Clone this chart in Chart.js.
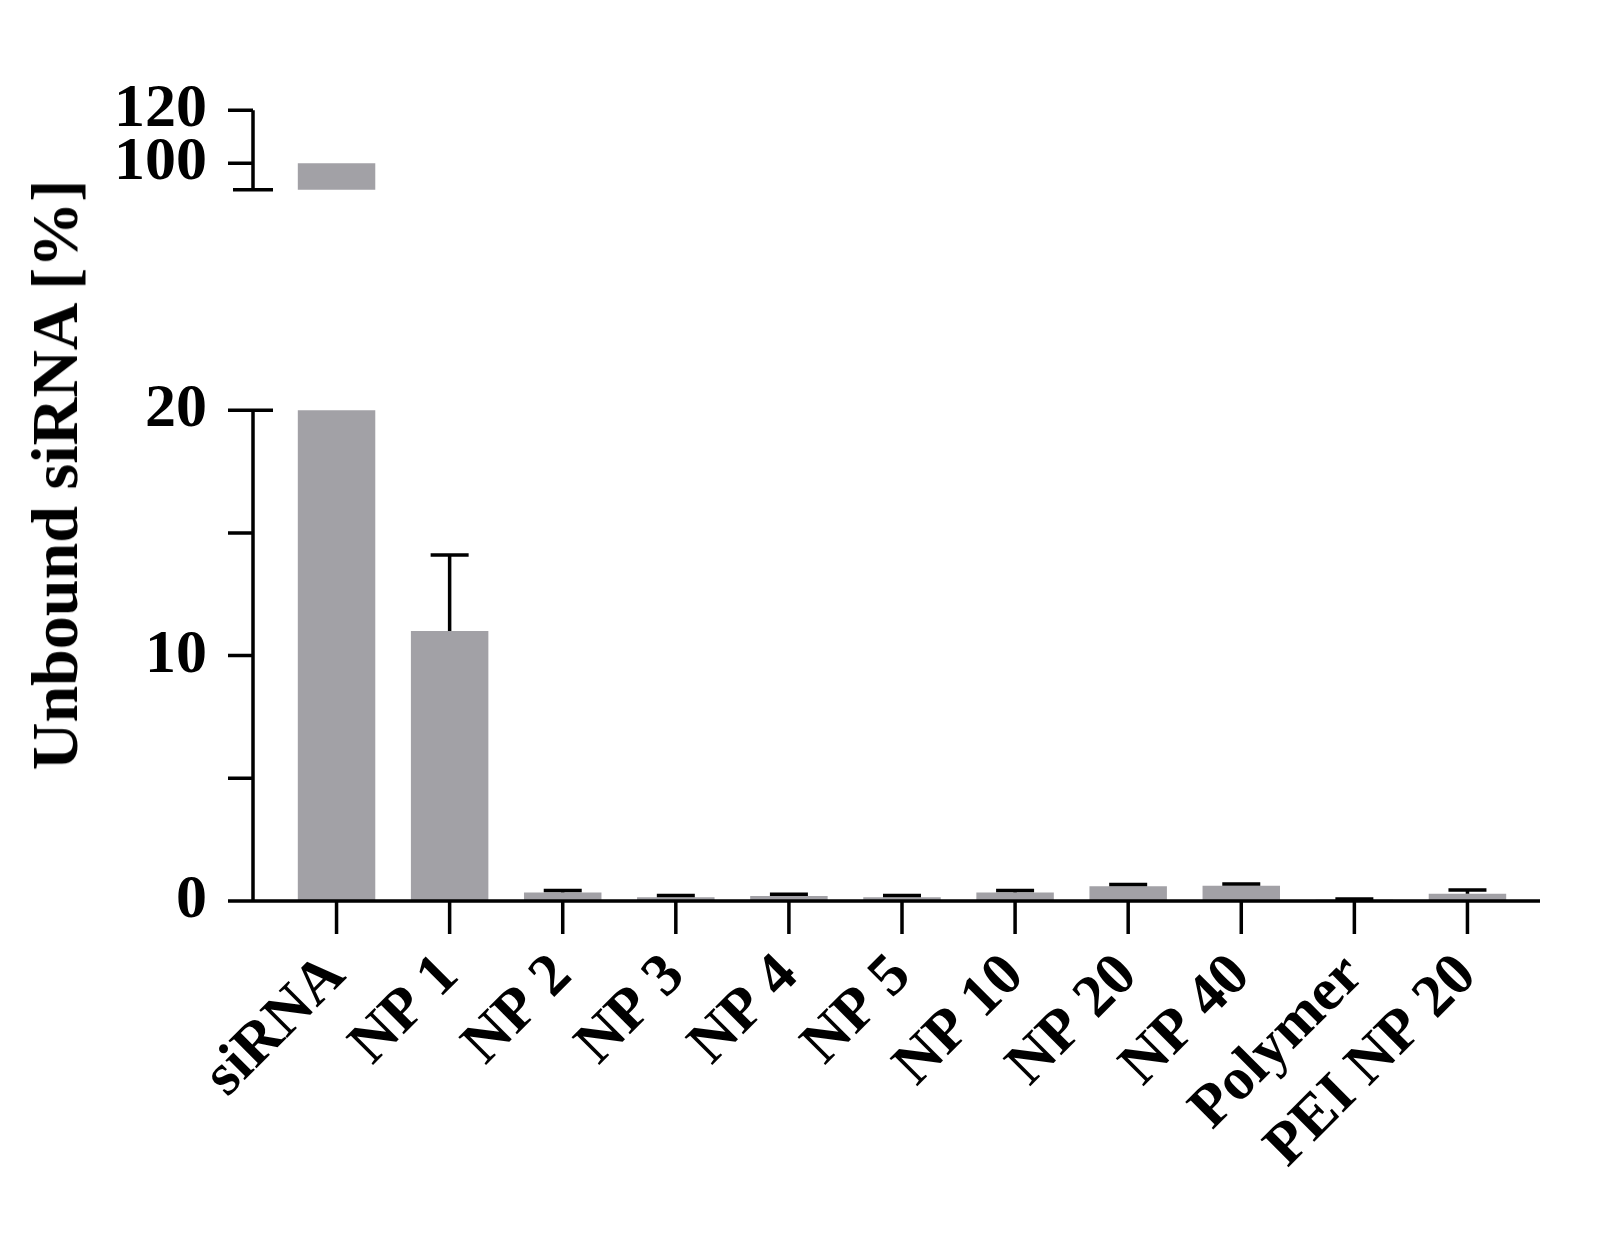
<!DOCTYPE html>
<html>
<head>
<meta charset="utf-8">
<script src="https://cdn.jsdelivr.net/npm/chart.js@4.4.1/dist/chart.umd.min.js"></script>
<style>
  body { margin: 0; background: #fff; }
  #wrap { position: relative; width: 1612px; height: 1252px; }
  #topWrap { position: absolute; left: 0; top: 0; width: 1612px; height: 300px; }
  #botWrap { position: absolute; left: 0; top: 300px; width: 1612px; height: 952px; }
  #ytitle {
    position: absolute; left: 55px; top: 475px;
    transform: translate(-50%, -50%) rotate(-90deg);
    font: bold 66px "Liberation Serif", "Times New Roman", serif; white-space: nowrap; color: #000;
  }
</style>
</head>
<body>
<div id="wrap">
  <div id="topWrap"><canvas id="topChart"></canvas></div>
  <div id="botWrap"><canvas id="botChart"></canvas></div>
  <div id="ytitle">Unbound siRNA [%]</div>
</div>
<script>
const categories = ["siRNA", "NP 1", "NP 2", "NP 3", "NP 4", "NP 5", "NP 10", "NP 20", "NP 40", "Polymer", "PEI NP 20"];
const unbound = [100, 11.0, 0.35, 0.15, 0.2, 0.15, 0.35, 0.6, 0.62, 0.05, 0.3];
const errorUp = [0, 3.1, 0.08, 0.07, 0.08, 0.07, 0.08, 0.07, 0.07, 0.03, 0.15];
const topTicks = [100, 120];
const bottomTicks = [0, 5, 10, 15, 20];
const bottomLabels = [0, 10, 20];

const barColor = "#a2a1a6";
const font = "'Liberation Serif', 'Times New Roman', serif";

// axis lines, tick marks, break marks and error bars
const axisPlugin = {
  id: "axes",
  afterDatasetsDraw(chart, args, opts) {
    const c = chart.ctx, a = chart.chartArea, y = chart.scales.y, x = chart.scales.x;
    const left = a.left - 27;
    c.save();
    c.strokeStyle = "#000";
    c.lineWidth = 3.5;
    c.beginPath();
    c.moveTo(left, a.top); c.lineTo(left, a.bottom);
    y.ticks.forEach(t => {
      const py = y.getPixelForValue(t.value);
      c.moveTo(left - 25, py); c.lineTo(left, py);
    });
    if (opts.part === "top") {
      c.moveTo(left - 20, a.bottom); c.lineTo(left + 20, a.bottom);
    } else {
      c.moveTo(left, a.top); c.lineTo(left + 20, a.top);
      c.moveTo(left, a.bottom); c.lineTo(a.right + 16, a.bottom);
      categories.forEach((cat, i) => {
        const px = x.getPixelForValue(i);
        c.moveTo(px, a.bottom); c.lineTo(px, a.bottom + 33);
      });
      // error bars (upper only)
      unbound.forEach((v, i) => {
        if (!errorUp[i] || v + errorUp[i] > 20) return;
        const px = x.getPixelForValue(i);
        const y0 = y.getPixelForValue(v), y1 = y.getPixelForValue(v + errorUp[i]);
        c.moveTo(px, y0); c.lineTo(px, y1);
        c.moveTo(px - 19, y1); c.lineTo(px + 19, y1);
      });
    }
    c.stroke();
    c.restore();
  }
};

function baseOptions(part) {
  const xScale = {
    display: part !== "top",
    grid: { display: false, drawTicks: false },
    border: { display: false },
    ticks: {
      minRotation: 45, maxRotation: 45, autoSkip: false, padding: 40,
      color: "#000", font: { family: font, weight: "bold", size: 60 }
    }
  };
  if (part !== "top") xScale.afterFit = s => { s.height = 351; };
  return {
    responsive: true,
    maintainAspectRatio: false,
    animation: false,
    layout: { padding: part === "top" ? { top: 48, bottom: 14, left: 0, right: 88 } : { top: 50, bottom: 0, left: 0, right: 88 } },
    plugins: { legend: { display: false }, tooltip: { enabled: false }, axes: { part: part } },
    datasets: { bar: { categoryPercentage: 1, barPercentage: 0.685 } },
    scales: {
      x: xScale,
      y: {
        min: part === "top" ? 90 : 0,
        max: part === "top" ? 120 : 20,
        grid: { display: false, drawTicks: false },
        border: { display: false },
        afterFit(s) { s.width = 280; },
        afterBuildTicks(s) {
          s.ticks = (part === "top" ? topTicks : bottomTicks).map(v => ({ value: v }));
        },
        ticks: {
          padding: 73, color: "#000",
          font: { family: font, weight: "bold", size: 62 },
          callback: v => (part === "top" ? topTicks : bottomLabels).includes(v) ? String(v) : ""
        }
      }
    }
  };
}

function makeChart(id, part) {
  return new Chart(document.getElementById(id), {
    type: "bar",
    data: {
      labels: categories,
      datasets: [{ data: unbound, backgroundColor: barColor, borderWidth: 0 }]
    },
    options: baseOptions(part),
    plugins: [axisPlugin]
  });
}

makeChart("topChart", "top");
makeChart("botChart", "bottom");
</script>
</body>
</html>
